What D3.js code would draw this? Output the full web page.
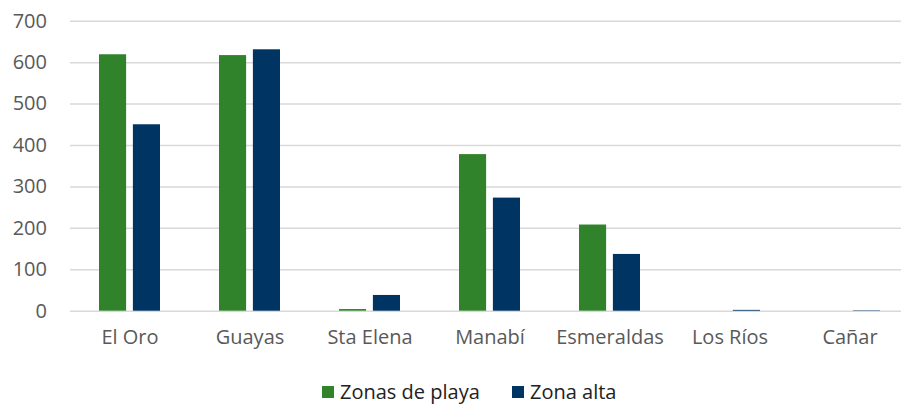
<!DOCTYPE html>
<html><head><meta charset="utf-8">
<script src="https://cdn.jsdelivr.net/npm/d3@7"></script>
<style>body{margin:0;background:#fff}svg{display:block}</style>
</head><body><svg id="c" width="901" height="407"></svg>
<script>
const categories = ["El Oro","Guayas","Sta Elena","Manabí","Esmeraldas","Los Ríos","Cañar"];
const seriesNames = ["Zonas de playa","Zona alta"];
const playa = [619, 617, 4, 378, 208, 0, 0];
const alta = [450, 631, 38, 273, 137, 2, 1];
const yTicks = [0,100,200,300,400,500,600,700];
const colors = ["#31832B","#003462"];

(function(){
const svg = d3.select("#c");
const mLeft = 70, mRight = 910, mTop = 20.7, mBottom = 310.7;
const x = d3.scaleBand().domain(categories).range([mLeft, mRight]).padding(0);
const xs = d3.scaleBand().domain(seriesNames).range([29, 90]).paddingInner(0.2);
const y = d3.scaleLinear().domain([0, 700]).range([mBottom, mTop]);
const font = "'Open Sans', 'Liberation Sans', sans-serif";

const yAxis = d3.axisLeft(y).tickValues(yTicks).tickSize(-(mRight-mLeft)).tickPadding(23);
const ga = svg.append("g").attr("transform", `translate(${mLeft},0)`).call(yAxis);
ga.select(".domain").remove();
ga.selectAll(".tick line").attr("stroke", "#d9d9d9").attr("stroke-width", 1.5);
ga.selectAll(".tick text").attr("fill", "#595959").style("font-family", font).style("font-size", "20px");

const data = [playa, alta];
seriesNames.forEach((s, si) => {
  svg.append("g").selectAll("rect").data(categories).join("rect")
    .attr("x", c => x(c) + xs(s))
    .attr("width", xs.bandwidth())
    .attr("y", (c, i) => y(data[si][i]))
    .attr("height", (c, i) => mBottom - y(data[si][i]))
    .attr("fill", colors[si]);
});

const xa = svg.append("g").attr("transform", `translate(0,${mBottom})`)
  .call(d3.axisBottom(x).tickSize(0).tickPadding(19));
xa.select(".domain").remove();
xa.selectAll(".tick text").attr("fill", "#595959").style("font-family", font).style("font-size", "20px");

const legend = [{n: seriesNames[0], x: 322, c: colors[0]}, {n: seriesNames[1], x: 512, c: colors[1]}];
const lg = svg.append("g");
legend.forEach(l => {
  lg.append("rect").attr("x", l.x).attr("y", 386).attr("width", 12).attr("height", 12).attr("fill", l.c);
  lg.append("text").attr("x", l.x + 18).attr("y", 392).attr("dy", "0.35em")
    .attr("fill", "#222").style("font-family", font).style("font-size", "20px").text(l.n);
});
})();
</script></body></html>
